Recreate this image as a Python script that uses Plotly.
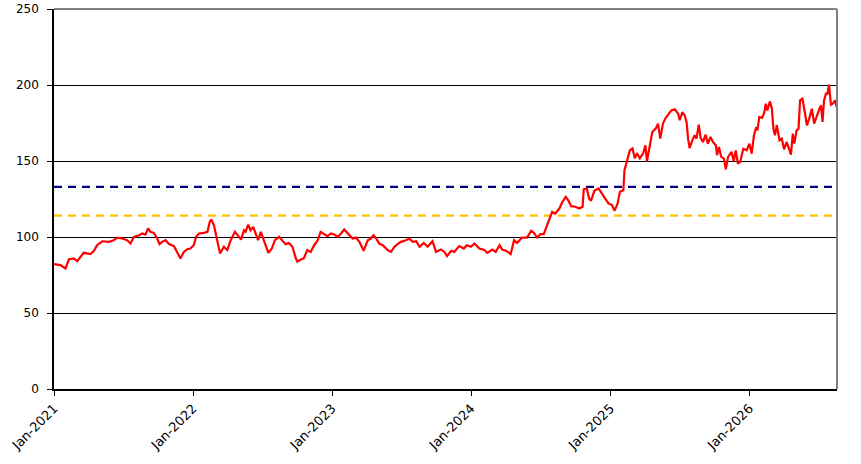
import plotly.graph_objs as go

# price series
dates = [
    "2021-01-01", "2021-01-18", "2021-01-31", "2021-02-09", "2021-02-22", "2021-03-03", "2021-03-20",
    "2021-04-07", "2021-04-16", "2021-04-24", "2021-05-08", "2021-05-25", "2021-06-07", "2021-06-16",
    "2021-06-29", "2021-07-12", "2021-07-21", "2021-07-30", "2021-08-12", "2021-08-21", "2021-08-29",
    "2021-09-05", "2021-09-11", "2021-09-20", "2021-09-29", "2021-10-05", "2021-10-12", "2021-10-21",
    "2021-10-30", "2021-11-12", "2021-11-20", "2021-11-29", "2021-12-08", "2021-12-17", "2021-12-25",
    "2022-01-03", "2022-01-09", "2022-01-17", "2022-01-30", "2022-02-08", "2022-02-14", "2022-02-18",
    "2022-02-25", "2022-03-03", "2022-03-10", "2022-03-13", "2022-03-23", "2022-04-01", "2022-04-10",
    "2022-04-21", "2022-04-28", "2022-05-07", "2022-05-15", "2022-05-19", "2022-05-26", "2022-06-01",
    "2022-06-08", "2022-06-15", "2022-06-21", "2022-06-28", "2022-07-06", "2022-07-13", "2022-07-18",
    "2022-07-27", "2022-08-04", "2022-08-15", "2022-08-24", "2022-09-01", "2022-09-10", "2022-09-19",
    "2022-09-28", "2022-10-02", "2022-10-11", "2022-10-19", "2022-10-28", "2022-11-06", "2022-11-15",
    "2022-11-24", "2022-12-02", "2022-12-11", "2022-12-20", "2022-12-29",
    "2023-01-07", "2023-01-16", "2023-01-25", "2023-02-02", "2023-02-11", "2023-02-24", "2023-03-05",
    "2023-03-14", "2023-03-25", "2023-04-05", "2023-04-13", "2023-04-20", "2023-04-29", "2023-05-05",
    "2023-05-14", "2023-05-27", "2023-06-05", "2023-06-14", "2023-06-22", "2023-07-01", "2023-07-14",
    "2023-07-23", "2023-08-01", "2023-08-10", "2023-08-19", "2023-08-30", "2023-09-09", "2023-09-22",
    "2023-10-01", "2023-10-14", "2023-10-23", "2023-10-30", "2023-11-10", "2023-11-18", "2023-12-01",
    "2023-12-13", "2023-12-21",
    "2024-01-01", "2024-01-10", "2024-01-23", "2024-02-05", "2024-02-13", "2024-02-26", "2024-03-06",
    "2024-03-16", "2024-03-23", "2024-04-03", "2024-04-14", "2024-04-23", "2024-05-01", "2024-05-14",
    "2024-05-27", "2024-06-07", "2024-06-14", "2024-06-23", "2024-07-01", "2024-07-10", "2024-07-17",
    "2024-07-23", "2024-08-01", "2024-08-09", "2024-08-20", "2024-08-28", "2024-09-06", "2024-09-13",
    "2024-09-20", "2024-10-01", "2024-10-11", "2024-10-20", "2024-10-23", "2024-10-31", "2024-11-06",
    "2024-11-11", "2024-11-20", "2024-12-01", "2024-12-09", "2024-12-18", "2024-12-27",
    "2025-01-05", "2025-01-12", "2025-01-20", "2025-01-26", "2025-02-04", "2025-02-07", "2025-02-13",
    "2025-02-21", "2025-02-28", "2025-03-06", "2025-03-12", "2025-03-19", "2025-03-28", "2025-04-03",
    "2025-04-07", "2025-04-14", "2025-04-21", "2025-04-30", "2025-05-06", "2025-05-12", "2025-05-19",
    "2025-05-26", "2025-06-04", "2025-06-10", "2025-06-19", "2025-06-28", "2025-07-02", "2025-07-09",
    "2025-07-15", "2025-07-20", "2025-07-24", "2025-07-28", "2025-08-04", "2025-08-10", "2025-08-15",
    "2025-08-21", "2025-08-26", "2025-09-01", "2025-09-08", "2025-09-14", "2025-09-21", "2025-09-27",
    "2025-10-05", "2025-10-08", "2025-10-13", "2025-10-19", "2025-10-26", "2025-10-31", "2025-11-06",
    "2025-11-15", "2025-11-21", "2025-11-26", "2025-12-02", "2025-12-08", "2025-12-16", "2025-12-25",
    "2026-01-01", "2026-01-07", "2026-01-13", "2026-01-19", "2026-01-22", "2026-01-27", "2026-02-03",
    "2026-02-09", "2026-02-13", "2026-02-17", "2026-02-24", "2026-03-01", "2026-03-05", "2026-03-09",
    "2026-03-14", "2026-03-21", "2026-03-27", "2026-04-02", "2026-04-09", "2026-04-13", "2026-04-20",
    "2026-04-25", "2026-04-29", "2026-05-05", "2026-05-10", "2026-05-14", "2026-05-20", "2026-05-25",
    "2026-06-01", "2026-06-07", "2026-06-14", "2026-06-20", "2026-06-27", "2026-07-04", "2026-07-08",
    "2026-07-12", "2026-07-16", "2026-07-21", "2026-07-25", "2026-07-29", "2026-08-03", "2026-08-08",
    "2026-08-14", "2026-08-18",
]
prices = [
    82.1, 81.5, 79.3, 85.2, 85.9, 84.1, 89.6,
    88.7, 90.9, 94.6, 97.2, 96.8, 97.9, 99.6,
    99.0, 97.9, 95.7, 100.1, 101.2, 102.3, 101.6,
    105.6, 103.4, 102.7, 99.0, 95.3, 96.8, 97.9,
    95.3, 94.0, 90.2, 85.9, 90.2, 92.0, 92.4,
    94.6, 100.1, 102.3, 102.7, 103.4, 110.0, 111.5,
    107.7, 101.2, 94.6, 89.2, 93.6, 91.4, 97.9,
    103.4, 101.2, 98.3, 104.4, 103.4, 108.2, 104.4,
    106.6, 101.2, 97.9, 103.4, 97.9, 93.6, 89.6,
    92.4, 97.9, 100.1, 97.5, 95.3, 96.1, 93.6,
    86.0, 83.8, 85.2, 86.0, 91.4, 90.2, 94.6,
    97.5, 103.4, 101.9, 100.5, 102.3,
    101.6, 100.1, 102.3, 105.0, 102.3, 99.0, 99.6,
    96.8, 90.9, 97.9, 99.0, 101.2, 98.3, 95.7,
    94.6, 91.4, 90.2, 93.6, 95.3, 96.8, 97.9,
    99.0, 96.8, 97.2, 93.6, 96.1, 93.6, 97.2,
    90.2, 91.8, 90.2, 87.4, 90.9, 90.2, 94.0,
    92.4, 94.6,
    93.6, 95.7, 92.4, 91.4, 89.5, 91.7, 90.2,
    94.6, 91.7, 90.8, 88.7, 97.9, 96.1, 99.6,
    99.6, 104.0, 102.7, 99.6, 101.9, 101.9, 106.7,
    110.0, 116.5, 115.4, 118.7, 123.1, 126.4, 123.8,
    120.3, 119.9, 118.7, 119.9, 131.3, 131.9, 125.4,
    123.8, 130.4, 131.9, 128.6, 125.4, 122.1,
    121.0, 117.3, 122.1, 129.7, 130.7, 144.0, 149.4,
    157.0, 158.3, 151.8, 155.1, 151.8, 155.1, 160.3,
    149.8, 160.3, 169.1, 171.3, 174.6, 164.7, 174.6,
    178.3, 181.1, 183.3, 184.0, 181.1, 176.8, 182.2,
    180.0, 175.7, 164.7, 158.5, 163.6, 166.9, 164.7,
    173.9, 165.1, 162.5, 167.3, 161.4, 165.8, 162.5,
    160.3, 153.8, 159.2, 152.7, 151.6, 144.6, 152.7,
    156.0, 149.8, 157.0, 148.2, 149.5, 158.0, 157.0,
    161.4, 154.8, 166.9, 172.4, 170.2, 178.9, 178.3,
    181.8, 187.7, 183.3, 189.2, 184.4, 171.3, 166.9,
    173.5, 163.6, 164.7, 157.7, 162.5, 159.2, 154.2,
    168.0, 161.4, 170.2, 171.3, 189.9, 191.0, 184.4,
    173.5, 177.9, 184.4, 174.6, 180.0, 184.4, 186.6,
    175.7, 189.9, 194.3, 194.3, 200.2, 187.0, 187.7,
    189.9, 185.5,
]

# reference levels (dashed)
upper_level = 133
lower_level = 114

x_range = ["2021-01-01", "2026-08-19"]
y_ticks = [0, 50, 100, 150, 200, 250]

fig = go.Figure()
fig.add_trace(go.Scatter(x=x_range, y=[upper_level, upper_level], mode="lines",
                         line=dict(color="#000080", width=2.2, dash="8px,6px"), hoverinfo="skip"))
fig.add_trace(go.Scatter(x=x_range, y=[lower_level, lower_level], mode="lines",
                         line=dict(color="#FFC000", width=2.2, dash="8px,6px"), hoverinfo="skip"))
fig.add_trace(go.Scatter(x=dates, y=prices, mode="lines", line=dict(color="#FF0000", width=2.2)))

font_x = dict(family="DejaVu Sans", size=13, color="black")
font_y = dict(family="DejaVu Sans", size=12, color="black")
fig.update_layout(
    width=861, height=464, showlegend=False, plot_bgcolor="white", paper_bgcolor="white",
    margin=dict(l=54, r=24, t=9, b=75, autoexpand=False), font=font_y,
    xaxis=dict(type="date", range=x_range, tick0="2021-01-01", dtick="M12", tickformat="%b-%Y",
               tickangle=-45, ticks="outside", ticklen=5, tickcolor="black", showgrid=False,
               showline=True, linecolor="black", linewidth=1.5, tickfont=font_x, automargin=False),
    yaxis=dict(range=[0, 250], tickvals=y_ticks, ticks="outside", ticklen=5, tickcolor="black",
               showgrid=True, gridcolor="black", gridwidth=1, zeroline=False, showline=True,
               linecolor="black", linewidth=1.5, tickfont=font_y, ticklabelstandoff=6, automargin=False),
    # grey frame on top and right side
    shapes=[
        dict(type="line", xref="paper", yref="paper", x0=0, x1=1, y0=1, y1=1,
             line=dict(color="#808080", width=2)),
        dict(type="line", xref="paper", yref="paper", x0=1, x1=1, y0=0, y1=1,
             line=dict(color="#808080", width=2)),
    ],
)

# drop the default page margin so the figure sits at the window corner
fig.write_html("out.html", config={"displayModeBar": False},
               post_script="document.body.style.margin = '0';")
